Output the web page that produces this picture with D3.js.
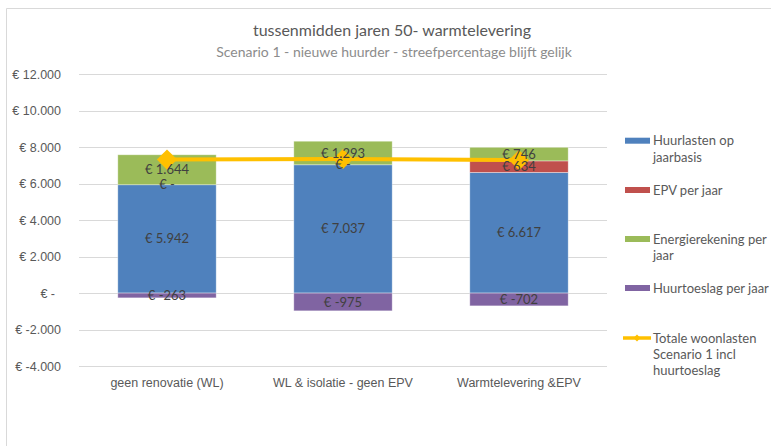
<!DOCTYPE html>
<html>
<head>
<meta charset="utf-8">
<script src="https://cdn.jsdelivr.net/npm/d3@7"></script>
<style>
  body { margin: 0; background: #fff; font-family: Lato, "Open Sans", sans-serif; }
  .axis text { fill: #595959; font-size: 12.5px; }
  .label { fill: #404040; font-size: 13px; }
  .legend text { fill: #595959; font-size: 13px; }
</style>
</head>
<body>
<div id="chart"></div>
<script>
// Data
let categories = ["geen renovatie (WL)", "WL & isolatie - geen EPV", "Warmtelevering &EPV"];
let huurlasten = [5942, 7037, 6617];
let epv = [0, 0, 634];
let energie = [1644, 1293, 746];
let huurtoeslag = [-263, -975, -702];
let totaal = [7323, 7355, 7295];
let yTicks = [-4000, -2000, 0, 2000, 4000, 6000, 8000, 10000, 12000];

let seriesNames = ["Huurlasten op jaarbasis", "EPV per jaar", "Energierekening per jaar", "Huurtoeslag per jaar", "Totale woonlasten Scenario 1 incl huurtoeslag"];
let colors = ["#4F81BD", "#C0504D", "#9BBB59", "#8064A2", "#FFC000"];

function drawChart(width, height, selector) {

	// Euro format with dots for thousands
	let locale = d3.formatLocale({ decimal: ",", thousands: ".", grouping: [3], currency: ["€ ", ""], minus: "-" });
	let num = locale.format(",.0f");
	let euro = d => d === 0 ? "€ -" : "€ " + num(d);

	let margin = { top: 74.3, left: 79, right: 164, bottom: 80 };

	let svg = d3.select(selector)
		.append("svg")
		.attr("width", width)
		.attr("height", height);

	// light frame of the chart area
	svg.append("path")
		.attr("d", "M6.5," + height + "V8.5H" + width)
		.attr("fill", "none")
		.attr("stroke", "#d9d9d9")
		.attr("stroke-width", 1);

	/////////////////
	//// Scales ////
	/////////////////

	let xPositionScale = d3.scaleBand()
		.domain(categories)
		.range([margin.left, width - margin.right])
		.paddingInner(0.441)
		.paddingOuter(0.2205);

	let yPositionScale = d3.scaleLinear()
		.domain([-4000, 12000])
		.range([366, margin.top]);

	// Gridlines
	svg.append("g")
		.selectAll("line")
		.data(yTicks)
		.join("line")
		.attr("x1", margin.left)
		.attr("x2", width - margin.right)
		.attr("y1", d => Math.round(yPositionScale(d)) + 0.5)
		.attr("y2", d => Math.round(yPositionScale(d)) + 0.5)
		.attr("stroke", "#d9d9d9")
		.attr("stroke-width", 1);

	// Y axis labels
	let yAxis = d3.axisLeft(yPositionScale)
		.tickValues(yTicks)
		.tickSize(0)
		.tickPadding(0)
		.tickFormat(euro);

	svg.append("g")
		.attr("class", "axis y-axis")
		.attr("transform", "translate(61,0)")
		.call(yAxis)
		.call(g => g.select(".domain").remove());

	// pushes the zero label a bit to the left like excel accounting format
	svg.selectAll(".y-axis .tick text")
		.filter(d => d === 0)
		.attr("dx", -6);

	// X axis labels
	let xAxis = d3.axisBottom(xPositionScale)
		.tickSize(0)
		.tickPadding(0);

	svg.append("g")
		.attr("class", "axis x-axis")
		.attr("transform", "translate(0,378)")
		.call(xAxis)
		.call(g => g.select(".domain").remove());

	/////////////////////////
	//// Stacked bars ////
	/////////////////////////

	let stackData = categories.map((c, i) => {
		let segments = [];
		let base = 0;
		[huurlasten, epv, energie].forEach((arr, k) => {
			segments.push({ cat: c, key: k, y0: base, y1: base + arr[i], value: arr[i] });
			base += arr[i];
		});
		segments.push({ cat: c, key: 3, y0: huurtoeslag[i], y1: 0, value: huurtoeslag[i] });
		return segments;
	});

	let allSegments = stackData.flat();

	svg.append("g")
		.selectAll("rect")
		.data(allSegments.filter(d => d.value !== 0))
		.join("rect")
		.attr("x", d => xPositionScale(d.cat))
		.attr("width", xPositionScale.bandwidth())
		.attr("y", d => yPositionScale(Math.max(d.y0, d.y1)))
		.attr("height", d => Math.abs(yPositionScale(d.y0) - yPositionScale(d.y1)))
		.attr("fill", d => colors[d.key])
		.attr("stroke", "#ffffff")
		.attr("stroke-opacity", 0.5)
		.attr("stroke-width", 0.75);

	// Total line
	let line = d3.line()
		.x((d, i) => xPositionScale(categories[i]) + xPositionScale.bandwidth() / 2)
		.y(d => yPositionScale(d));

	svg.append("path")
		.attr("d", line(totaal))
		.attr("fill", "none")
		.attr("stroke", colors[4])
		.attr("stroke-width", 4)
		.attr("stroke-linejoin", "round");

	svg.append("g")
		.selectAll("path")
		.data(totaal)
		.join("path")
		.attr("d", d3.symbol(d3.symbolDiamond2, 260))
		.attr("transform", (d, i) => "translate(" + (xPositionScale(categories[i]) + xPositionScale.bandwidth() / 2) + "," + yPositionScale(d) + ")")
		.attr("fill", colors[4]);

	// Data labels in the middle of each segment
	svg.append("g")
		.selectAll("text")
		.data(allSegments)
		.join("text")
		.attr("class", "label")
		.attr("x", d => xPositionScale(d.cat) + xPositionScale.bandwidth() / 2)
		.attr("y", d => yPositionScale((d.y0 + d.y1) / 2))
		.attr("dy", "0.35em")
		.attr("text-anchor", "middle")
		.text(d => euro(d.value));

	/////////////////
	//// Titles ////
	/////////////////

	svg.append("text")
		.attr("x", 392)
		.attr("y", 30)
		.attr("dy", "0.35em")
		.attr("text-anchor", "middle")
		.attr("fill", "#595959")
		.attr("font-size", "16px")
		.text("tussenmidden jaren 50- warmtelevering");

	svg.append("text")
		.attr("x", 394)
		.attr("y", 52)
		.attr("dy", "0.35em")
		.attr("text-anchor", "middle")
		.attr("fill", "#8c8c8c")
		.attr("font-size", "14px")
		.text("Scenario 1 - nieuwe huurder - streefpercentage blijft gelijk");

	/////////////////
	//// Legend ////
	/////////////////

	let legendLines = [["Huurlasten op", "jaarbasis"], ["EPV per jaar"], ["Energierekening per", "jaar"], ["Huurtoeslag per jaar"], ["Totale woonlasten", "Scenario 1 incl", "huurtoeslag"]];
	let legendY = [140.7, 190, 239, 288, 338];

	let legend = svg.append("g").attr("class", "legend");

	legendLines.forEach((lines, i) => {
		let item = legend.append("g")
			.attr("transform", "translate(0," + legendY[i] + ")");

		if (i < 4) {
			item.append("rect")
				.attr("x", 625)
				.attr("y", -3)
				.attr("width", 25)
				.attr("height", 6)
				.attr("fill", colors[i]);
		} else {
			item.append("line")
				.attr("x1", 623)
				.attr("x2", 651)
				.attr("stroke", colors[4])
				.attr("stroke-width", 3.5);
			item.append("path")
				.attr("d", d3.symbol(d3.symbolDiamond2, 30))
				.attr("transform", "translate(637,0)")
				.attr("fill", colors[4]);
		}

		item.append("text")
			.attr("x", 653)
			.attr("dy", "0.35em")
			.selectAll("tspan")
			.data(lines)
			.join("tspan")
			.attr("x", 653)
			.attr("dy", (d, j) => j === 0 ? "0.35em" : "16.3px")
			.text(d => d);
	});
}

drawChart(771, 446, "#chart");
</script>
</body>
</html>
